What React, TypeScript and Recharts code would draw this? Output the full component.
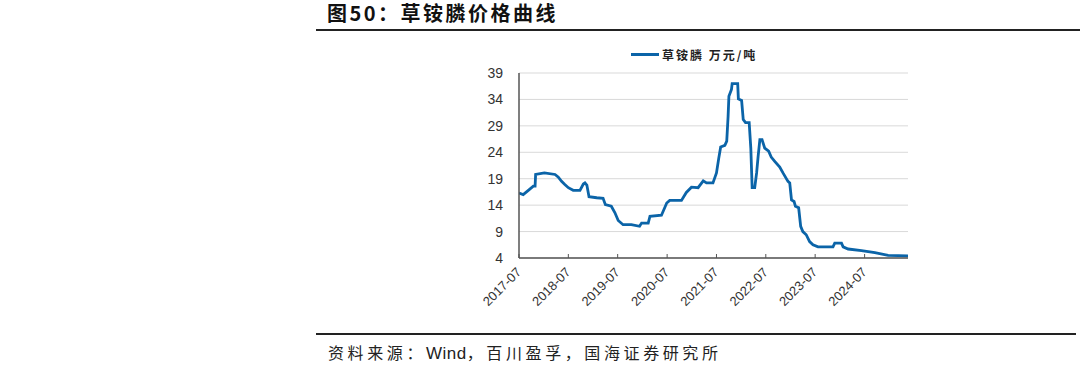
import React from "react";
import { LineChart, Line, XAxis, YAxis, CartesianGrid, Legend } from "recharts";

const dates: string[] = [
  "2017-07-01", "2017-08-01", "2017-09-08", "2017-10-15", "2017-10-28", "2017-11-01",
  "2018-01-05", "2018-03-25", "2018-04-18", "2018-05-12", "2018-06-05", "2018-07-01",
  "2018-08-06", "2018-09-25", "2018-10-20", "2018-11-01", "2018-11-15", "2018-12-01",
  "2019-01-27", "2019-03-15", "2019-04-01", "2019-05-15", "2019-06-10", "2019-07-05",
  "2019-08-10", "2019-10-10", "2019-12-10", "2019-12-25", "2020-02-12", "2020-02-25",
  "2020-05-20", "2020-06-28", "2020-07-20", "2020-10-15", "2020-11-20", "2020-12-28",
  "2021-02-15", "2021-03-25", "2021-04-18", "2021-06-05", "2021-07-01", "2021-07-18",
  "2021-08-01", "2021-09-01", "2021-09-15", "2021-09-25", "2021-10-01", "2021-10-20",
  "2021-10-25", "2021-12-05", "2021-12-10", "2022-01-03", "2022-01-15", "2022-02-01",
  "2022-02-28", "2022-03-12", "2022-03-22", "2022-04-10", "2022-04-24", "2022-05-05",
  "2022-05-18", "2022-06-03", "2022-06-23", "2022-07-22", "2022-08-10", "2022-09-05",
  "2022-10-12", "2022-11-05", "2022-12-12", "2022-12-25", "2023-01-07", "2023-01-26",
  "2023-02-05", "2023-03-01", "2023-03-16", "2023-04-01", "2023-04-26", "2023-05-21",
  "2023-06-15", "2023-07-22", "2023-11-10", "2023-11-23", "2024-01-12", "2024-01-24",
  "2024-03-01", "2024-06-08", "2024-09-15", "2024-12-22", "2025-05-18",
];

const prices: number[] = [
  16.3, 16.0, 16.8, 17.6, 17.6, 19.8,
  20.1, 19.8, 19.3, 18.5, 17.9, 17.3,
  16.8, 16.8, 18.0, 18.2, 17.8, 15.6,
  15.4, 15.3, 14.1, 13.8, 12.6, 11.1,
  10.3, 10.3, 10.0, 10.6, 10.6, 11.9,
  12.1, 14.4, 14.9, 14.9, 16.4, 17.4,
  17.3, 18.6, 18.2, 18.2, 20.1, 22.9,
  25.0, 25.3, 26.1, 30.8, 34.6, 35.9,
  37.0, 37.0, 34.1, 33.8, 30.2, 29.6,
  29.6, 24.8, 17.3, 17.3, 20.1, 23.2,
  26.4, 26.4, 24.8, 24.2, 23.1, 22.3,
  21.2, 20.1, 18.5, 18.2, 15.0, 14.7,
  13.8, 13.5, 10.0, 9.0, 8.4, 7.1,
  6.5, 6.1, 6.1, 6.8, 6.8, 6.1,
  5.7, 5.4, 5.0, 4.5, 4.4,
];

const xTickDates: string[] = [
  "2017-07-01", "2018-07-01", "2019-07-01", "2020-07-01",
  "2021-07-01", "2022-07-01", "2023-07-01", "2024-07-01",
];
const yTicks: number[] = [4, 9, 14, 19, 24, 29, 34, 39];

const seriesName = "草铵膦 万元/吨";
const title = "图50：草铵膦价格曲线";
const sourceParts: string[] = ["资料来源：", "Wind", "，百川盈孚，国海证券研究所"];

const data = dates.map((d, i) => ({ t: Date.parse(d), v: prices[i] }));
const xTicks = xTickDates.map((d) => Date.parse(d));
const xDomain = [Date.parse(dates[0]), Date.parse(dates[dates.length - 1])];

const LINE_COLOR = "#0b64a8";
const NUM_FONT = "Arial, 'Liberation Sans', sans-serif";
const CJK_FONT = "'Noto Sans CJK SC', sans-serif";

const fmt = (t: number) => {
  const d = new Date(t);
  const m = d.getUTCMonth() + 1;
  return `${d.getUTCFullYear()}-${m < 10 ? "0" + m : m}`;
};

const XTick = (props: any) => {
  const { x, y, payload } = props;
  const ax = x + 3;
  const ay = y + 15;
  return (
    <g>
      <line x1={x} y1={y} x2={x} y2={y - 4} stroke="#555" strokeWidth={1} />
      <text
        x={ax}
        y={ay}
        textAnchor="end"
        transform={`rotate(-45 ${ax} ${ay})`}
        fontSize={13}
        fontFamily={NUM_FONT}
        fill="#333"
      >
        {fmt(payload.value)}
      </text>
    </g>
  );
};

const LegendContent = () => (
  <div style={{ display: "flex", alignItems: "center" }}>
    <div style={{ width: 28, height: 3, background: LINE_COLOR, marginRight: 3 }} />
    <span
      style={{
        fontFamily: CJK_FONT,
        fontSize: 12,
        fontWeight: 700,
        color: "#222",
        letterSpacing: 2,
        whiteSpace: "pre",
      }}
    >
      {seriesName}
    </span>
  </div>
);

export default function App() {
  return (
    <div style={{ position: "absolute", left: 0, top: 0, width: 1080, height: 376, background: "#fff" }}>
      <div
        style={{
          position: "absolute",
          left: 327,
          top: 0,
          fontFamily: CJK_FONT,
          fontWeight: 700,
          fontSize: 20,
          letterSpacing: 2.5,
          color: "#111",
          whiteSpace: "nowrap",
          lineHeight: "26px",
        }}
      >
        {title}
      </div>
      <div style={{ position: "absolute", left: 316, top: 29, width: 764, height: 2, background: "#222" }} />
      <div style={{ position: "absolute", left: 316, top: 333, width: 760, height: 2, background: "#222" }} />
      <div
        style={{
          position: "absolute",
          left: 328,
          top: 340,
          fontFamily: CJK_FONT,
          fontSize: 16,
          letterSpacing: 3.6,
          color: "#222",
          whiteSpace: "nowrap",
          lineHeight: "24px",
        }}
      >
        {sourceParts[0]}
        <span style={{ fontFamily: NUM_FONT, letterSpacing: 0.5, fontSize: 17 }}>{sourceParts[1]}</span>
        {sourceParts[2]}
      </div>
      <div style={{ position: "absolute", left: 0, top: 0 }}>
        <LineChart
          width={1080}
          height={376}
          data={data}
          margin={{ top: 73, right: 172, bottom: 58, left: 459 }}
        >
          <CartesianGrid vertical={false} stroke="#d9d9d9" strokeWidth={1} />
          <XAxis
            dataKey="t"
            type="number"
            domain={xDomain}
            ticks={xTicks}
            tick={<XTick />}
            tickLine={false}
            tickSize={0}
            tickMargin={0}
            axisLine={{ stroke: "#555", strokeWidth: 1.5 }}
            height={60}
            interval={0}
            allowDataOverflow
          />
          <YAxis
            type="number"
            domain={[4, 39]}
            ticks={yTicks}
            interval={0}
            width={60}
            tickLine={false}
            tickSize={0}
            tickMargin={16}
            axisLine={{ stroke: "#555", strokeWidth: 1.5 }}
            tick={{ fontSize: 14, fontFamily: NUM_FONT, fill: "#333" }}
          />
          <Legend
            content={<LegendContent />}
            wrapperStyle={{ position: "absolute", left: 631, top: 46, width: "auto", height: 0, overflow: "visible" }}
          />
          <Line
            type="linear"
            dataKey="v"
            name={seriesName}
            stroke={LINE_COLOR}
            strokeWidth={2.8}
            dot={false}
            isAnimationActive={false}
          />
        </LineChart>
      </div>
    </div>
  );
}
